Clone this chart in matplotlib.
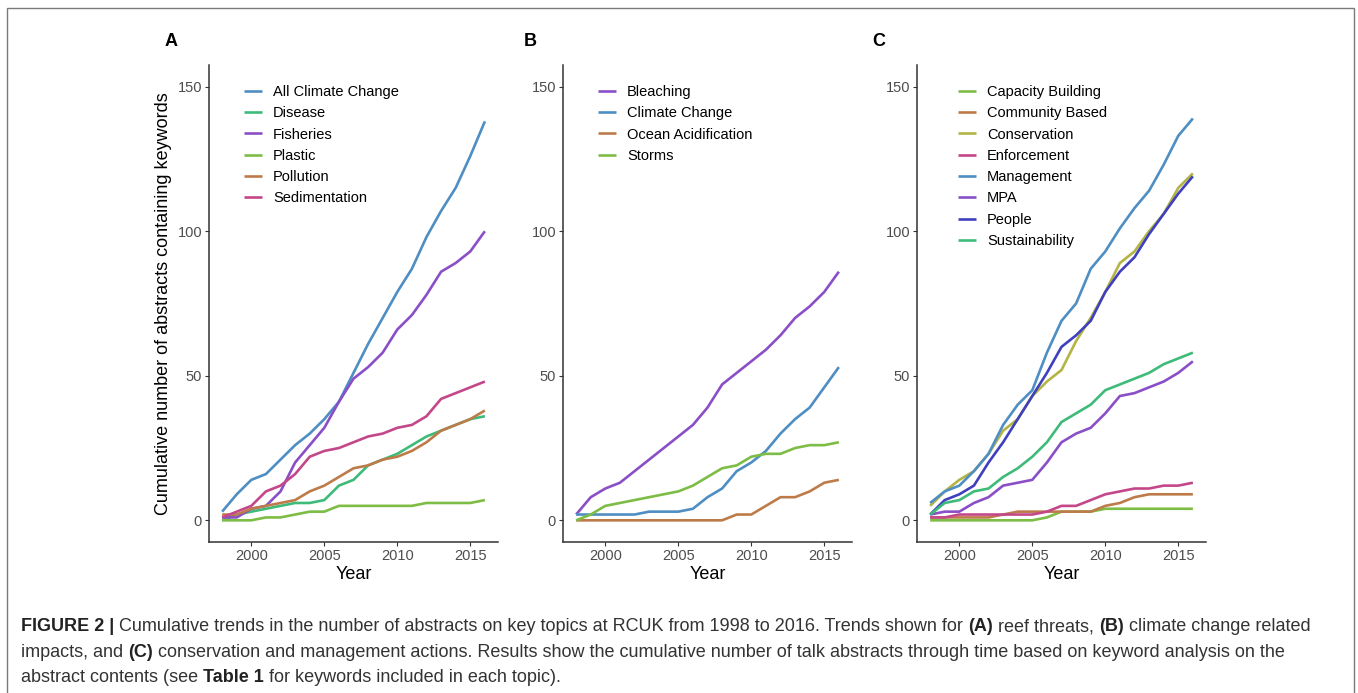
import matplotlib
matplotlib.use("Agg")
import matplotlib.pyplot as plt
from matplotlib.patches import Rectangle

plt.rcParams['font.family'] = ['Liberation Sans', 'DejaVu Sans']

# ---- data ----
years = list(range(1998, 2017))

# panel A: reef threats
a_names = ["All Climate Change", "Disease", "Fisheries", "Plastic", "Pollution", "Sedimentation"]
all_climate = [3, 9, 14, 16, 21, 26, 30, 35, 41, 51, 61, 70, 79, 87, 98, 107, 115, 126, 138]
disease = [0, 2, 3, 4, 5, 6, 6, 7, 12, 14, 19, 21, 23, 26, 29, 31, 33, 35, 36]
fisheries = [1, 1, 4, 5, 10, 20, 26, 32, 41, 49, 53, 58, 66, 71, 78, 86, 89, 93, 100]
plastic = [0, 0, 0, 1, 1, 2, 3, 3, 5, 5, 5, 5, 5, 5, 6, 6, 6, 6, 7]
pollution = [2, 2, 4, 5, 6, 7, 10, 12, 15, 18, 19, 21, 22, 24, 27, 31, 33, 35, 38]
sedimentation = [1, 3, 5, 10, 12, 16, 22, 24, 25, 27, 29, 30, 32, 33, 36, 42, 44, 46, 48]

# panel B: climate change related impacts
b_names = ["Bleaching", "Climate Change", "Ocean Acidification", "Storms"]
bleaching = [2, 8, 11, 13, 17, 21, 25, 29, 33, 39, 47, 51, 55, 59, 64, 70, 74, 79, 86]
climate_change = [2, 2, 2, 2, 2, 3, 3, 3, 4, 8, 11, 17, 20, 24, 30, 35, 39, 46, 53]
ocean_acid = [0, 0, 0, 0, 0, 0, 0, 0, 0, 0, 0, 2, 2, 5, 8, 8, 10, 13, 14]
storms = [0, 2, 5, 6, 7, 8, 9, 10, 12, 15, 18, 19, 22, 23, 23, 25, 26, 26, 27]

# panel C: conservation and management actions
c_names = ["Capacity Building", "Community Based", "Conservation", "Enforcement",
           "Management", "MPA", "People", "Sustainability"]
capacity = [0, 0, 0, 0, 0, 0, 0, 0, 1, 3, 3, 3, 4, 4, 4, 4, 4, 4, 4]
community = [1, 1, 1, 1, 1, 2, 3, 3, 3, 3, 3, 3, 5, 6, 8, 9, 9, 9, 9]
conservation = [5, 10, 14, 17, 23, 31, 35, 43, 48, 52, 62, 70, 79, 89, 93, 100, 106, 115, 120]
enforcement = [1, 1, 2, 2, 2, 2, 2, 2, 3, 5, 5, 7, 9, 10, 11, 11, 12, 12, 13]
management = [6, 10, 12, 17, 23, 33, 40, 45, 58, 69, 75, 87, 93, 101, 108, 114, 123, 133, 139]
mpa = [2, 3, 3, 6, 8, 12, 13, 14, 20, 27, 30, 32, 37, 43, 44, 46, 48, 51, 55]
people = [2, 7, 9, 12, 20, 27, 35, 43, 51, 60, 64, 69, 79, 86, 91, 99, 106, 113, 119]
sustainability = [2, 6, 7, 10, 11, 15, 18, 22, 27, 34, 37, 40, 45, 47, 49, 51, 54, 56, 58]

# colours
BLUE = "#4E8EC3"
GREEN = "#3EBA79"
PURPLE = "#8A4FC7"
LGREEN = "#7DBD45"
ORANGE = "#BE7B4A"
MAGENTA = "#C4478A"
OLIVE = "#B3B443"
DBLUE = "#4040BF"

panels = [
    ("A", a_names, [all_climate, disease, fisheries, plastic, pollution, sedimentation],
     [BLUE, GREEN, PURPLE, LGREEN, ORANGE, MAGENTA]),
    ("B", b_names, [bleaching, climate_change, ocean_acid, storms],
     [PURPLE, BLUE, ORANGE, LGREEN]),
    ("C", c_names, [capacity, community, conservation, enforcement, management, mpa, people, sustainability],
     [LGREEN, ORANGE, OLIVE, MAGENTA, BLUE, PURPLE, DBLUE, GREEN]),
]

W, H = 1358, 693
fig = plt.figure(figsize=(W / 100, H / 100), dpi=100)

# outer frame
fig.patches.append(Rectangle((7 / W, -0.05), 1347 / W, 1.05 - 8 / H, transform=fig.transFigure,
                             fill=False, edgecolor="#7a7a7a", linewidth=1.0))

ax_left = [209, 563, 917]
ax_w = 289
ax_top, ax_bot = 65, 542
letter_x = [171, 530, 879]
legend_x = [244, 598, 958]

for i, (letter, names, series, colors) in enumerate(panels):
    ax = fig.add_axes([ax_left[i] / W, (H - ax_bot) / H, ax_w / W, (ax_bot - ax_top) / H])
    for name, vals, col in zip(names, series, colors):
        ax.plot(years, vals, color=col, lw=1.9, label=name, solid_capstyle='butt')
    ax.set_xlim(1998 - 0.9, 2016 + 0.9)
    ax.set_ylim(-7.5, 157.5)
    ax.set_xticks([2000, 2005, 2010, 2015])
    ax.set_yticks([0, 50, 100, 150])
    for s in ["top", "right"]:
        ax.spines[s].set_visible(False)
    for s in ["left", "bottom"]:
        ax.spines[s].set_color("#333333")
        ax.spines[s].set_linewidth(1.1)
    ax.tick_params(direction='out', length=3, width=0.8, color="#333333",
                   labelcolor="#4D4D4D", labelsize=10.5, pad=2)
    ax.set_xlabel("Year", fontsize=13, color="black", labelpad=2)
    if i == 0:
        ax.set_ylabel("Cumulative number of abstracts containing keywords", fontsize=13,
                      color="black", labelpad=4)
    fig.text(letter_x[i] / W, 1 - 42 / H, letter, fontsize=13, fontweight='bold',
             ha='center', va='center')
    ax.legend(loc='upper left', bbox_to_anchor=(legend_x[i] / W, 1 - 85 / H),
              bbox_transform=fig.transFigure, frameon=False, fontsize=10.5,
              handlelength=1.25, handletextpad=0.75, labelspacing=0.5,
              borderpad=0, borderaxespad=0)

# caption with bold runs
caption_lines = [
    [("FIGURE 2 |", True), (" Cumulative trends in the number of abstracts on key topics at RCUK from 1998 to 2016. Trends shown for ", False),
     ("(A)", True), (" reef threats, ", False), ("(B)", True), (" climate change related", False)],
    [("impacts, and ", False), ("(C)", True),
     (" conservation and management actions. Results show the cumulative number of talk abstracts through time based on keyword analysis on the", False)],
    [("abstract contents (see ", False), ("Table 1", True), (" for keywords included in each topic).", False)],
]
baselines = [631, 657, 682]

renderer = fig.canvas.get_renderer()
for line, base in zip(caption_lines, baselines):
    x = 21
    for txt, bold in line:
        t = fig.text(x / W, 1 - base / H, txt, fontsize=13,
                     fontweight='bold' if bold else 'normal',
                     color="#222222" if bold else "#333333",
                     ha='left', va='baseline')
        x += t.get_window_extent(renderer).width

fig.savefig("out.png", dpi=100)
